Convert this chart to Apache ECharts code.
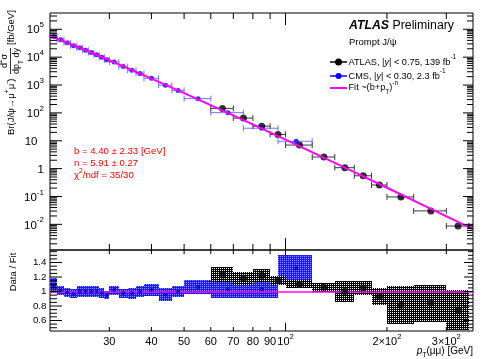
<!DOCTYPE html>
<html>
<head>
<meta charset="utf-8">
<script src="https://cdn.jsdelivr.net/npm/echarts@6/dist/echarts.min.js"></script>
<style>
html, body { margin: 0; padding: 0; background: #fff; }
#chart { width: 498px; height: 359px; }
</style>
</head>
<body>
<div id="chart"></div>
<script>
// ATLAS |y| < 0.75 (bins in GeV)
const atlasLo = [60, 70, 80, 90, 100, 120, 140, 160, 180, 200, 240, 300]
const atlasHi = [70, 80, 90, 100, 120, 140, 160, 180, 200, 240, 300, 350]
const atlasPt = [65, 75, 85, 95, 110, 130, 150, 170, 190, 220, 270, 325]
const atlasXsec = [145, 65.1, 33.4, 16.8, 7.01, 2.61, 1.08, 0.554, 0.258, 0.0963, 0.0304, 0.0087]
const atlasRatio = [1.23, 1.18, 1.22, 1.15, 1.10, 1.06, 1.00, 1.05, 0.93, 0.81, 0.84, 0.745]
const atlasRatioErr = [0.105, 0.093, 0.093, 0.06, 0.053, 0.063, 0.15, 0.10, 0.117, 0.265, 0.255, 0.28]

// CMS |y| < 0.30
const cmsLo = [20, 21, 22, 23, 24, 25, 26, 27, 28, 29, 30, 32, 34, 36, 38, 42, 46, 50, 60, 75, 95]
const cmsHi = [21, 22, 23, 24, 25, 26, 27, 28, 29, 30, 32, 34, 36, 38, 42, 46, 50, 60, 75, 95, 120]
const cmsPt = [20.5, 21.5, 22.5, 23.5, 24.5, 25.5, 26.5, 27.5, 28.5, 29.5, 31, 33, 35, 37, 40, 44, 48, 55, 67.5, 85, 107.5]
const cmsXsec = [56400, 42100, 32800, 25900, 21700, 17700, 14600, 12100, 9870, 8050, 6660, 4600, 3380, 2590, 1750, 987, 643, 325, 102, 28.2, 9.58]
const cmsRatio = [1.08, 1.017, 0.99, 0.97, 1.0, 1.0, 1.0, 1.0, 0.98, 0.95, 1.02, 0.975, 0.975, 1.0, 1.02, 0.96, 1.0, 1.06, 1.03, 1.03, 1.32]
const cmsRatioErr = [0.1, 0.063, 0.06, 0.06, 0.07, 0.07, 0.07, 0.07, 0.07, 0.06, 0.063, 0.063, 0.077, 0.077, 0.08, 0.09, 0.08, 0.1, 0.12, 0.12, 0.19]

// fit ~ (b + pT)^-n
const fitPt = [20, 25, 30, 40, 50, 70, 100, 150, 200, 270, 360]
const fitVal = [58900, 19600, 7730, 1710, 515, 81.0, 10.9, 1.08, 0.206, 0.0362, 0.00677]
const fitRatio = 1

// axis ticks
const xTickVals = [30, 40, 50, 60, 70, 80, 90, 100, 200, 300]
const xTickLabels = ['30', '40', '50', '60', '70', '80', '90', '10{s|2}', '2×10{s|2}', '3×10{s|2}']
const yDecades = [-2, -1, 0, 1, 2, 3, 4, 5]
const ratioTicks = [0.6, 0.8, 1, 1.2, 1.4]
const ratioLabels = ['0.6', '0.8', '1', '1.2', '1.4']

const X_MIN = 20, X_MAX = 360
const Y_MIN = 1.2e-3, Y_MAX = 3.85e5
const R_MIN = 0.455, R_MAX = 1.573

const FONT = "'Liberation Sans', Arial, Helvetica, sans-serif"
const MAGENTA = '#ff00ff'

const rich = fs => ({
    s: { fontSize: fs * 0.7, fontFamily: FONT, verticalAlign: 'top', lineHeight: fs * 0.7 },
    b: { fontSize: fs * 0.7, fontFamily: FONT, verticalAlign: 'bottom', lineHeight: fs * 0.7 },
    i: { fontSize: fs, fontFamily: FONT, fontStyle: 'italic', lineHeight: fs * 1.6 },
    bi: { fontSize: fs, fontFamily: FONT, fontStyle: 'italic', fontWeight: 'bold', lineHeight: fs * 1.6 }
})

const txt = (x, y, text, fs, align, fill, extra) => Object.assign({
    type: 'text',
    x: x,
    y: y,
    style: {
        text: text,
        fontSize: fs,
        fontFamily: FONT,
        lineHeight: fs * 1.6,
        fill: fill || '#000',
        rich: rich(fs),
        align: align || 'left',
        textAlign: align || 'left',
        verticalAlign: 'middle',
        textVerticalAlign: 'middle'
    }
}, extra || {})

const seg = (x1, y1, x2, y2, color, w) => ({
    type: 'line',
    shape: { x1: x1, y1: y1, x2: x2, y2: y2 },
    style: { stroke: color || '#000', lineWidth: w || 1 }
})

// minor ticks
const yMinor = []
for (let d = -3; d <= 5; d++) {
    for (let k = 2; k <= 9; k++) {
        const v = k * Math.pow(10, d)
        if (v > Y_MIN && v < Y_MAX) yMinor.push(v)
    }
}
const rMinor = []
for (let i = 10; i <= 31; i++) {
    const v = i * 0.05
    if (v > R_MIN && v < R_MAX && !ratioTicks.some(t => Math.abs(t - v) < 1e-6)) rMinor.push(v)
}

const upperFrame = (params, api) => {
    if (params.dataIndex > 0) return null
    const cs = params.coordSys
    const L = cs.x, R = cs.x + cs.width, T = cs.y, B = cs.y + cs.height
    const kids = []
    xTickVals.forEach(v => {
        const x = api.coord([v, 1])[0]
        const len = v === 100 ? 12 : 6
        kids.push(seg(x, T, x, T + len), seg(x, B, x, B - len))
    })
    yDecades.forEach(e => {
        const y = api.coord([100, Math.pow(10, e)])[1]
        kids.push(seg(L, y, L + 12, y), seg(R, y, R - 10, y))
        const label = e === 0 ? '1' : e === 1 ? '10' : '10{s|' + (e < 0 ? '-' : '') + Math.abs(e) + '}'
        kids.push(txt(L - 6 - (e === 1 ? 6.5 : 0), y + 1, label, 11.5, 'right'))
    })
    yMinor.forEach(v => {
        const y = api.coord([100, v])[1]
        kids.push(seg(L, y, L + 7, y), seg(R, y, R - 6, y))
    })
    return { type: 'group', children: kids }
}

const lowerFrame = (params, api) => {
    if (params.dataIndex > 0) return null
    const cs = params.coordSys
    const L = cs.x, R = cs.x + cs.width, T = cs.y, B = cs.y + cs.height
    const kids = []
    xTickVals.forEach((v, i) => {
        const x = api.coord([v, 1])[0]
        const len = v === 100 ? 8 : 4
        kids.push(seg(x, T, x, T + len), seg(x, B, x, B - len))
        kids.push(txt(x, B + 11, xTickLabels[i], 11, 'center'))
    })
    ratioTicks.forEach((v, i) => {
        const y = api.coord([100, v])[1]
        kids.push(seg(L, y, L + 12, y), seg(R, y, R - 9, y))
        kids.push(txt(L - 3.5, y, ratioLabels[i], 9.8, 'right'))
    })
    rMinor.forEach(v => {
        const y = api.coord([100, v])[1]
        kids.push(seg(L, y, L + 7, y), seg(R, y, R - 5, y))
    })
    return { type: 'group', children: kids }
}

const hbar = (color, cap) => (params, api) => {
    const y = api.value(1)
    const a = api.coord([api.value(2), y])
    const b = api.coord([api.value(3), y])
    return {
        type: 'group',
        children: [
            seg(a[0], a[1], b[0], b[1], color),
            seg(a[0], a[1] - cap, a[0], a[1] + cap, color),
            seg(b[0], b[1] - cap, b[0], b[1] + cap, color)
        ]
    }
}

// ROOT-like dotted fill: solid box with a grid of light pixels on top
const ratioBox = (color, dotColor) => (params, api) => {
    const r = api.value(2), e = api.value(3)
    const p1 = api.coord([api.value(0), r + e])
    const p2 = api.coord([api.value(1), r - e])
    const x0 = Math.round(p1[0]), x1 = Math.round(p2[0])
    const y0 = Math.round(p1[1]), y1 = Math.round(p2[1])
    let d = ''
    for (let y = y0; y < y1; y++) {
        if (y % 2) continue
        for (let x = x0; x < x1; x++) {
            if (x % 2 === 0) d += 'M' + x + ' ' + y + 'h1v1h-1z'
        }
    }
    return {
        type: 'group',
        children: [
            { type: 'rect', shape: { x: x0, y: y0, width: x1 - x0, height: y1 - y0 }, style: { fill: color } },
            { type: 'path', shape: { pathData: d }, style: { fill: dotColor } }
        ]
    }
}

const hiddenAxis = (type, grid, min, max) => ({
    type: type,
    gridIndex: grid,
    min: min,
    max: max,
    logBase: 10,
    axisLine: { show: false },
    axisTick: { show: false },
    axisLabel: { show: false },
    splitLine: { show: false }
})

const chart = echarts.init(document.getElementById('chart'), null, { renderer: 'canvas' })

const option = {
    animation: false,
    backgroundColor: '#fff',
    grid: [
        { left: 50, top: 13, width: 423, height: 237, show: true, borderColor: '#000', borderWidth: 1, backgroundColor: 'transparent' },
        { left: 50, top: 250, width: 423, height: 81, show: true, borderColor: '#000', borderWidth: 1, backgroundColor: 'transparent' }
    ],
    xAxis: [
        hiddenAxis('log', 0, X_MIN, X_MAX),
        hiddenAxis('log', 1, X_MIN, X_MAX)
    ],
    yAxis: [
        hiddenAxis('log', 0, Y_MIN, Y_MAX),
        hiddenAxis('value', 1, R_MIN, R_MAX)
    ],
    series: [
        {
            type: 'custom', xAxisIndex: 0, yAxisIndex: 0, z: 10,
            data: [[100, 1]], encode: { x: 0, y: 1 },
            renderItem: upperFrame
        },
        {
            type: 'custom', xAxisIndex: 0, yAxisIndex: 0, z: 2,
            data: atlasPt.map((p, i) => [p, atlasXsec[i], atlasLo[i], atlasHi[i]]),
            encode: { x: 0, y: 1 },
            renderItem: hbar('#3a3a3a', 3)
        },
        {
            name: 'ATLAS', type: 'scatter', xAxisIndex: 0, yAxisIndex: 0, z: 3,
            symbol: 'circle', symbolSize: 7,
            itemStyle: { color: '#000' },
            data: atlasPt.map((p, i) => [p, atlasXsec[i]])
        },
        {
            type: 'custom', xAxisIndex: 0, yAxisIndex: 0, z: 4,
            data: cmsPt.map((p, i) => [p, cmsXsec[i], cmsLo[i], cmsHi[i]]),
            encode: { x: 0, y: 1 },
            renderItem: hbar('rgba(70,70,255,0.75)', 3)
        },
        {
            name: 'CMS', type: 'scatter', xAxisIndex: 0, yAxisIndex: 0, z: 5,
            symbol: 'circle', symbolSize: 5,
            itemStyle: { color: '#0000ff' },
            data: cmsPt.map((p, i) => [p, cmsXsec[i]])
        },
        {
            name: 'Fit', type: 'line', xAxisIndex: 0, yAxisIndex: 0, z: 6,
            showSymbol: false, symbol: 'none', smooth: false,
            lineStyle: { color: MAGENTA, width: 2 },
            data: fitPt.map((p, i) => [p, fitVal[i]])
        },
        {
            type: 'custom', xAxisIndex: 1, yAxisIndex: 1, z: 10,
            data: [[100, 1]], encode: { x: 0, y: 1 },
            renderItem: lowerFrame
        },
        {
            type: 'custom', xAxisIndex: 1, yAxisIndex: 1, z: 2,
            data: cmsPt.map((p, i) => [cmsLo[i], cmsHi[i], cmsRatio[i], cmsRatioErr[i]]),
            encode: { x: [0, 1], y: 2 },
            renderItem: ratioBox('#1a1aff', '#8c8cff')
        },
        {
            type: 'custom', xAxisIndex: 1, yAxisIndex: 1, z: 3,
            data: atlasPt.map((p, i) => [atlasLo[i], atlasHi[i], atlasRatio[i], atlasRatioErr[i]]),
            encode: { x: [0, 1], y: 2 },
            renderItem: ratioBox('#000000', '#ffffff'),
            markLine: {
                silent: true,
                symbol: ['none', 'none'],
                label: { show: false },
                lineStyle: { color: MAGENTA, width: 1.5, type: 'solid' },
                data: [{ yAxis: fitRatio }]
            }
        },
        {
            type: 'scatter', xAxisIndex: 1, yAxisIndex: 1, z: 5,
            symbol: 'circle', symbolSize: 4,
            itemStyle: { color: '#0000cc' },
            data: cmsPt.map((p, i) => [p, cmsRatio[i]])
        },
        {
            type: 'scatter', xAxisIndex: 1, yAxisIndex: 1, z: 6,
            symbol: 'circle', symbolSize: 7,
            itemStyle: { color: '#000' },
            data: atlasPt.map((p, i) => [p, atlasRatio[i]])
        }
    ],
    graphic: [
        // y title, upper pad
        {
            type: 'group', x: 11, y: 135, rotation: Math.PI / 2,
            children: [
                txt(0, 0, 'Br(J/ψ→μ{s|+}μ{s|-})', 9.5, 'left'),
                txt(74, -6.5, 'd{s|2}σ', 9, 'center'),
                seg(61, -0.5, 87, -0.5, '#000', 0.8),
                txt(74, 6, 'dp{b|T} dy', 9, 'center'),
                txt(90, 0, '[fb/GeV]', 9.5, 'left')
            ]
        },
        txt(13, 272, 'Data / Fit', 9.5, 'center', '#000', { rotation: Math.PI / 2 }),
        txt(473, 351, '{i|p}{b|T}(μμ) [GeV]', 10, 'right'),

        txt(349, 26, '{bi|ATLAS} Preliminary', 12.3, 'left'),
        txt(349, 42, 'Prompt J/ψ', 9.5, 'left'),

        seg(330, 62, 347, 62, '#000', 1.5),
        { type: 'circle', shape: { cx: 338.5, cy: 62, r: 3.5 }, style: { fill: '#000' } },
        txt(348.5, 62, 'ATLAS, |{i|y}| < 0.75, 139 fb{s|-1}', 9.2, 'left'),
        seg(330, 76, 347, 76, '#0000ff', 1.5),
        { type: 'circle', shape: { cx: 338.5, cy: 76, r: 3 }, style: { fill: '#0000ff' } },
        txt(348.5, 76, 'CMS, |{i|y}| < 0.30, 2.3 fb{s|-1}', 9.2, 'left'),
        seg(330, 88, 347, 88, MAGENTA, 2),
        txt(348.5, 87.5, 'Fit ~(b+p{b|T}){s|-n}', 9.2, 'left'),

        txt(74, 151.5, 'b = 4.40 ± 2.33 [GeV]', 9.6, 'left', '#ff0000'),
        txt(74, 163.5, 'n = 5.91 ± 0.27', 9.6, 'left', '#ff0000'),
        txt(74, 175.5, 'χ{s|2}/ndf = 35/30', 9.6, 'left', '#ff0000')
    ]
}

chart.setOption(option)
</script>
</body>
</html>
